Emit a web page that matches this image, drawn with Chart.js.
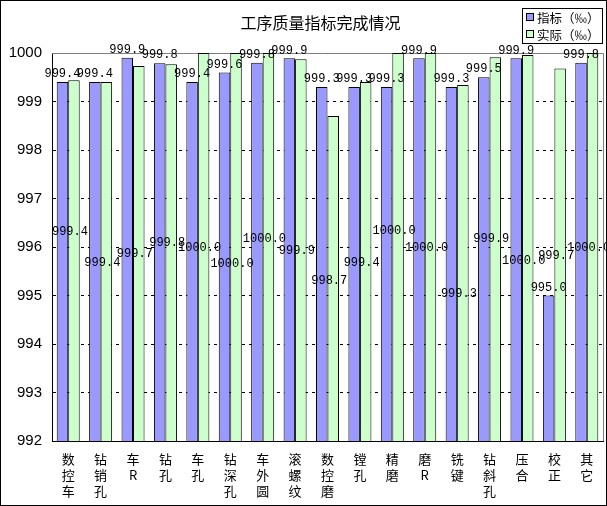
<!DOCTYPE html>
<html>
<head>
<meta charset="utf-8">
<script src="https://cdn.jsdelivr.net/npm/chart.js@4/dist/chart.umd.min.js"></script>
<style>
	html, body { margin: 0; padding: 0; background: #ffffff; }
	#wrap { width: 607px; height: 506px; position: relative; }
</style>
</head>
<body>
<div id="wrap"><canvas id="quality"></canvas></div>
<script>
// categories (x labels stacked one character per line)
const categories = [
	["数", "控", "车"], ["钻", "销", "孔"], ["车", "R"], ["钻", "孔"], ["车", "孔"],
	["钻", "深", "孔"], ["车", "外", "圆"], ["滚", "螺", "纹"], ["数", "控", "磨"],
	["镗", "孔"], ["精", "磨"], ["磨", "R"], ["铣", "键"], ["钻", "斜", "孔"],
	["压", "合"], ["校", "正"], ["其", "它"]
];

const targetValues = [999.4, 999.4, 999.9, 999.79, 999.4, 999.6, 999.8, 999.89, 999.3, 999.3, 999.3, 999.89, 999.3, 999.5, 999.89, 995.0, 999.8];
const actualValues = [999.44, 999.4, 999.73, 999.77, 1000.0, 1000.0, 1000.0, 999.87, 998.7, 999.4, 1000.0, 1000.0, 999.34, 999.91, 999.96, 999.68, 1000.0];

// where the "actual" labels sit (in axis units), as placed in the original sheet
const actualLabelAt = [996.31, 995.67, 995.86, 996.08, 995.98, 995.65, 996.16, 995.92, 995.30, 995.67, 996.33, 995.98, 995.03, 996.16, 995.71, 995.81, 995.98];

const yTicks = [992, 993, 994, 995, 996, 997, 998, 999, 1000];

const seriesNames = ["指标（‰）", "实际（‰）"];

document.addEventListener("DOMContentLoaded", function () {
	const ctx = document.getElementById("quality").getContext("2d");

	// title, legend, frame and value labels
	const decorations = {
		id: "decorations",
		beforeDatasetsDraw(chart) {
			const { ctx, chartArea } = chart;
			ctx.save();
			ctx.strokeStyle = "#808080";
			ctx.lineWidth = 1;
			ctx.beginPath();
			ctx.moveTo(chartArea.left, chartArea.top + 0.5);
			ctx.lineTo(chartArea.right + 0.5, chartArea.top + 0.5);
			ctx.lineTo(chartArea.right + 0.5, chartArea.bottom);
			ctx.stroke();
			ctx.restore();
		},
		afterDraw(chart) {
			const { ctx, chartArea } = chart;
			const yScale = chart.scales.y;
			ctx.save();

			// title
			ctx.fillStyle = "#000000";
			ctx.font = "16px 'Noto Sans CJK SC', sans-serif";
			ctx.textAlign = "center";
			ctx.textBaseline = "middle";
			ctx.fillText("工序质量指标完成情况", (chartArea.left + chartArea.right) / 2 - 7, 23);

			// value labels
			ctx.font = "12px 'Liberation Mono', monospace";
			const tMeta = chart.getDatasetMeta(0);
			const aMeta = chart.getDatasetMeta(1);
			tMeta.data.forEach(function (bar, i) {
				ctx.textBaseline = "bottom";
				ctx.fillText(targetValues[i].toFixed(1), bar.x, bar.y - 2);
			});
			aMeta.data.forEach(function (bar, i) {
				ctx.textBaseline = "middle";
				ctx.fillText(actualValues[i].toFixed(1), bar.x - 4, yScale.getPixelForValue(actualLabelAt[i]));
			});

			// legend
			const lx = 522, ly = 8, lw = 80, lh = 35;
			ctx.fillStyle = "#ffffff";
			ctx.fillRect(lx, ly, lw, lh);
			ctx.strokeStyle = "#000000";
			ctx.lineWidth = 1;
			ctx.strokeRect(lx + 0.5, ly + 0.5, lw, lh);
			ctx.font = "12.5px 'Noto Sans CJK SC', sans-serif";
			ctx.textAlign = "left";
			ctx.textBaseline = "middle";
			chart.data.datasets.forEach(function (ds, i) {
				const cy = ly + 9 + i * 17;
				ctx.fillStyle = ds.backgroundColor;
				ctx.fillRect(lx + 4, cy - 3, 7, 7);
				ctx.strokeStyle = "#000000";
				ctx.strokeRect(lx + 4.5, cy - 3.5, 7, 7);
				ctx.fillStyle = "#000000";
				ctx.fillText(ds.label, lx + 15, cy + 1);
			});

			// outer frame
			ctx.strokeStyle = "#000000";
			ctx.strokeRect(0.5, 0.5, chart.width - 1, chart.height - 1);
			ctx.restore();
		}
	};

	new Chart(ctx, {
		type: "bar",
		data: {
			labels: categories,
			datasets: [{
				label: seriesNames[0],
				data: targetValues,
				backgroundColor: "#9999ff",
				borderColor: "#000000",
				borderWidth: 1,
				borderSkipped: false,
			}, {
				label: seriesNames[1],
				data: actualValues,
				backgroundColor: "#ccffcc",
				borderColor: "#000000",
				borderWidth: 1,
				borderSkipped: false,
			}],
		},
		options: {
			responsive: true,
			maintainAspectRatio: false,
			animation: false,
			devicePixelRatio: 1,
			categoryPercentage: 0.71,
			barPercentage: 1.0,
			layout: {
				padding: { top: 53, right: 4, left: 0, bottom: 0 },
			},
			plugins: {
				legend: { display: false },
				title: { display: false },
				tooltip: { enabled: false },
			},
			scales: {
				x: {
					grid: { display: false },
					border: { display: true, color: "#000000", width: 1 },
					ticks: {
						color: "#000000",
						padding: 2,
						maxRotation: 0,
						autoSkip: false,
						font: { size: 13, family: "'Noto Sans CJK SC', sans-serif", lineHeight: 1.23 },
					},
					afterFit: function (scale) {
						scale.height = 65;
					},
				},
				y: {
					min: yTicks[0],
					max: yTicks[yTicks.length - 1],
					afterBuildTicks: function (scale) {
						scale.ticks = yTicks.map(function (v) { return { value: v }; });
					},
					grid: {
						color: "#000000",
						drawTicks: false,
						lineWidth: 1,
					},
					border: { display: true, color: "#000000", width: 1, dash: [3, 4] },
					ticks: {
						color: "#000000",
						padding: 10,
						font: { size: 15, family: "'Liberation Sans', Arial, sans-serif" },
						callback: function (value) {
							return String(value);
						},
					},
					afterFit: function (scale) {
						scale.width = 52;
					},
				},
			},
		},
		plugins: [decorations],
	});
});
</script>
</body>
</html>
